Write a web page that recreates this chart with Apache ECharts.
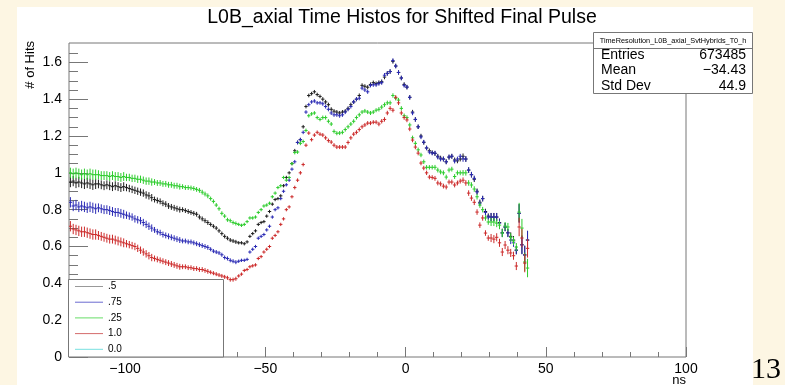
<!DOCTYPE html>
<html><head><meta charset="utf-8">
<script src="https://cdn.jsdelivr.net/npm/echarts@6/dist/echarts.min.js"></script>
<style>
html,body{margin:0;padding:0;background:#fdf6e3;}
#sheet{position:absolute;left:17px;top:7px;width:736px;height:378px;background:#fff;}
#chart{position:absolute;left:0;top:0;width:785px;height:385px;}
</style></head>
<body><div id="sheet"></div><div id="chart"></div>
<script>
// ---- histogram binning (1 ns bins starting at -120 ns) ----
const binLow = -120;
const binWidth = 1;

// ---- series values (# of hits, normalised), one per bin ----
const s05 = [
 0.95,0.955,0.945,0.95,0.945,0.94,0.945,0.94,0.935,0.94,
 0.94,0.935,0.93,0.935,0.93,0.925,0.93,0.925,0.92,0.925,
 0.92,0.915,0.91,0.905,0.9,0.895,0.89,0.88,0.875,0.865,
 0.855,0.85,0.845,0.835,0.83,0.82,0.815,0.81,0.805,0.80,
 0.80,0.795,0.79,0.785,0.78,0.775,0.76,0.75,0.74,0.73,
 0.72,0.71,0.70,0.685,0.67,0.655,0.645,0.635,0.63,0.625,
 0.62,0.62,0.615,0.625,0.655,0.67,0.685,0.72,0.73,0.735,
 0.765,0.79,0.83,0.855,0.86,0.875,0.93,0.975,1.0,1.05,
 1.12,1.165,1.18,1.25,1.36,1.42,1.43,1.44,1.425,1.415,
 1.40,1.385,1.37,1.345,1.335,1.33,1.325,1.33,1.335,1.35,
 1.37,1.385,1.40,1.42,1.475,1.47,1.465,1.48,1.49,1.485,
 1.49,1.495,1.52,1.54,1.55,1.605,1.58,1.545,1.515,1.48,
 1.465,1.41,1.33,1.29,1.25,1.2,1.165,1.135,1.12,1.11,
 1.105,1.09,1.08,1.075,1.06,1.085,1.09,1.07,1.065,1.075,
 1.09,1.075,1.015,0.99,0.965,0.9,0.84,0.86,0.79,0.765,
 0.76,0.76,0.76,0.73,0.675,0.705,0.675,0.655,0.635,0.58,
 0.78,0.61,0.555,0.635];
const s075 = [
 0.84,0.82,0.825,0.815,0.82,0.815,0.81,0.815,0.81,0.805,
 0.81,0.805,0.80,0.80,0.795,0.79,0.785,0.785,0.78,0.775,
 0.77,0.765,0.76,0.75,0.745,0.74,0.73,0.72,0.71,0.70,
 0.69,0.68,0.675,0.665,0.66,0.655,0.65,0.645,0.64,0.635,
 0.63,0.63,0.625,0.625,0.62,0.615,0.61,0.605,0.60,0.595,
 0.585,0.575,0.57,0.565,0.555,0.54,0.535,0.525,0.52,0.515,
 0.52,0.525,0.525,0.53,0.57,0.585,0.60,0.645,0.655,0.665,
 0.69,0.71,0.76,0.80,0.81,0.86,0.90,0.935,0.96,1.02,
 1.06,1.165,1.18,1.22,1.33,1.37,1.385,1.39,1.38,1.38,
 1.375,1.36,1.345,1.325,1.315,1.315,1.31,1.315,1.33,1.345,
 1.36,1.385,1.40,1.405,1.46,1.45,1.44,1.475,1.478,1.478,
 1.485,1.49,1.53,1.54,1.55,1.61,1.58,1.545,1.515,1.475,
 1.466,1.41,1.325,1.29,1.25,1.195,1.167,1.135,1.113,1.107,
 1.107,1.086,1.075,1.075,1.06,1.086,1.09,1.064,1.075,1.09,
 1.075,1.075,1.015,0.99,0.97,0.896,0.835,0.86,0.785,0.76,
 0.76,0.76,0.76,0.727,0.673,0.706,0.673,0.635,0.62,0.58,
 0.78,0.608,0.553,0.635];
const s025 = [
 1.0,0.995,1.0,0.995,0.99,0.995,0.99,0.995,0.99,0.99,
 0.99,0.985,0.985,0.985,0.98,0.985,0.98,0.98,0.975,0.98,
 0.975,0.975,0.97,0.97,0.965,0.965,0.96,0.955,0.955,0.95,
 0.95,0.945,0.945,0.94,0.94,0.935,0.935,0.93,0.93,0.925,
 0.925,0.92,0.92,0.918,0.915,0.91,0.905,0.895,0.885,0.875,
 0.86,0.845,0.825,0.805,0.78,0.765,0.745,0.74,0.73,0.725,
 0.72,0.715,0.72,0.735,0.755,0.755,0.76,0.785,0.80,0.82,
 0.825,0.835,0.87,0.89,0.92,0.93,0.975,0.96,0.975,1.05,
 1.11,1.113,1.16,1.17,1.23,1.31,1.32,1.325,1.30,1.29,
 1.30,1.30,1.28,1.265,1.225,1.215,1.216,1.22,1.235,1.25,
 1.265,1.28,1.30,1.315,1.33,1.336,1.33,1.325,1.33,1.34,
 1.345,1.357,1.37,1.38,1.38,1.42,1.405,1.395,1.35,1.31,
 1.30,1.26,1.19,1.16,1.125,1.097,1.06,1.03,1.03,1.03,
 1.03,1.015,1.005,1.0,0.977,1.015,1.02,0.98,1.0,1.0,
 1.0,1.0,0.945,0.934,0.912,0.87,0.825,0.80,0.755,0.733,
 0.733,0.733,0.727,0.716,0.673,0.711,0.706,0.65,0.63,0.597,
 0.787,0.70,0.516,0.483];
const s10 = [
 0.71,0.695,0.69,0.685,0.68,0.68,0.675,0.67,0.665,0.665,
 0.66,0.655,0.65,0.645,0.64,0.64,0.635,0.63,0.625,0.62,
 0.615,0.61,0.605,0.60,0.59,0.58,0.57,0.56,0.55,0.54,
 0.535,0.53,0.525,0.52,0.515,0.51,0.505,0.50,0.495,0.49,
 0.49,0.49,0.485,0.485,0.48,0.48,0.475,0.475,0.47,0.465,
 0.46,0.455,0.45,0.445,0.44,0.435,0.43,0.42,0.42,0.425,
 0.44,0.45,0.47,0.475,0.49,0.495,0.50,0.535,0.545,0.57,
 0.585,0.60,0.645,0.66,0.68,0.72,0.75,0.80,0.815,0.87,
 0.92,0.96,1.0,1.045,1.15,1.216,1.18,1.205,1.22,1.21,
 1.205,1.19,1.175,1.167,1.15,1.14,1.14,1.14,1.14,1.165,
 1.19,1.21,1.22,1.235,1.25,1.26,1.27,1.27,1.275,1.275,
 1.265,1.28,1.29,1.325,1.35,1.34,1.41,1.38,1.325,1.30,
 1.287,1.238,1.178,1.14,1.107,1.053,1.026,1.0,0.977,0.975,
 0.97,0.945,0.94,0.928,0.923,0.95,0.95,0.934,0.945,0.955,
 0.96,0.945,0.89,0.863,0.84,0.787,0.716,0.755,0.673,0.646,
 0.646,0.64,0.65,0.62,0.57,0.608,0.58,0.565,0.55,0.494,
 0.706,0.646,0.51,0.59];
const s00 = [];
// half error bar per 10-ns block (from -120 to 50)
const errorByBlock = [0.028,0.024,0.02,0.016,0.013,0.011,0.009,0.009,0.01,0.011,0.011,0.012,0.012,0.013,0.015,0.022,0.05];

const seriesNames = ['.5', '.75', '.25', '1.0', '0.0'];
const seriesValues = [s05, s075, s025, s10, s00];

// ---- axis ticks / labels ----
const xMajorTicks = [-100, -50, 0, 50, 100];
const xMinorTicks = [-110,-90,-80,-70,-60,-40,-30,-20,-10,10,20,30,40,60,70,80,90];
const yMajorTicks = [0, 0.2, 0.4, 0.6, 0.8, 1, 1.2, 1.4, 1.6];
const yMinorTicks = [0.05,0.1,0.15,0.25,0.3,0.35,0.45,0.5,0.55,0.65,0.7,0.75,0.85,0.9,0.95,1.05,1.1,1.15,1.25,1.3,1.35,1.45,1.5,1.55,1.65];

// ---- stats box ----
const statsTitle = 'TimeResolution_L0B_axial_SvtHybrids_T0_h';
const statsLabels = ['Entries', 'Mean', 'Std Dev'];
const statsValues = ['673485', '\u221234.43', '44.9'];

const colors = ['#1e1e1e', '#2a2ab4', '#2ccc2c', '#cc2a2a', '#55dddd'];
const legendColors = ['#999999', '#6a6ad0', '#66dd66', '#d46a6a', '#77e0e0'];
const FONT = '"Liberation Sans", Arial, Helvetica, sans-serif';

function toData(vals) {
  return vals.map((v, i) => [binLow + (i + 0.5) * binWidth, v,
    errorByBlock[Math.floor(i * binWidth / 10)]]);
}

function renderCross(params, api) {
  const x = api.value(0), y = api.value(1), e = api.value(2);
  const c = api.coord([x, y]);
  const l = api.coord([x - binWidth * 0.6, y]);
  const r = api.coord([x + binWidth * 0.6, y]);
  const t = api.coord([x, y + e]);
  const b = api.coord([x, y - e]);
  const st = { stroke: api.visual('color'), lineWidth: 1 };
  return { type: 'group', children: [
    { type: 'line', shape: { x1: l[0], y1: c[1], x2: r[0], y2: c[1] }, style: st },
    { type: 'line', shape: { x1: c[0], y1: t[1], x2: c[0], y2: b[1] }, style: st }
  ]};
}

const minus = v => (v < 0 ? '\u2212' + Math.abs(v) : String(v));

const chart = echarts.init(document.getElementById('chart'), null, { renderer: 'canvas' });
const axisGray = '#777';
chart.setOption({
  backgroundColor: 'transparent',
  animation: false,
  grid: { left: 69, top: 43, right: 99, bottom: 28, show: true, borderColor: axisGray, borderWidth: 1, backgroundColor: 'transparent' },
  xAxis: [
    { type: 'value', min: -120, max: 100, position: 'bottom',
      axisLine: { show: false, onZero: false },
      axisTick: { show: true, inside: true, length: 10, customValues: xMajorTicks, lineStyle: { color: axisGray } },
      axisLabel: { customValues: xMajorTicks, formatter: minus, fontFamily: FONT, fontSize: 14, color: '#000', margin: 5 },
      splitLine: { show: false } },
    { type: 'value', min: -120, max: 100, position: 'bottom', gridIndex: 0,
      axisLine: { show: false, onZero: false },
      axisTick: { show: true, inside: true, length: 5, customValues: xMinorTicks, lineStyle: { color: axisGray } },
      axisLabel: { show: false }, splitLine: { show: false } }
  ],
  yAxis: [
    { type: 'value', min: 0, max: 1.705, position: 'left',
      axisLine: { show: false, onZero: false },
      axisTick: { show: true, inside: true, length: 19, customValues: yMajorTicks, lineStyle: { color: axisGray } },
      axisLabel: { customValues: yMajorTicks, formatter: v => String(+v.toFixed(1)), fontFamily: FONT, fontSize: 14, color: '#000', margin: 7 },
      splitLine: { show: false } },
    { type: 'value', min: 0, max: 1.705, position: 'left', gridIndex: 0,
      axisLine: { show: false, onZero: false },
      axisTick: { show: true, inside: true, length: 9, customValues: yMinorTicks, lineStyle: { color: axisGray } },
      axisLabel: { show: false }, splitLine: { show: false } }
  ],
  legend: {
    orient: 'vertical', left: 75, top: 280.5, padding: 0, itemGap: 3.7,
    icon: 'rect', itemWidth: 28, itemHeight: 1, z: 6,
    textStyle: { fontFamily: FONT, fontSize: 10, lineHeight: 12, color: '#000' },
    data: seriesNames.map((n, i) => ({ name: n, itemStyle: { color: legendColors[i] } }))
  },
  series: seriesNames.map((n, i) => ({
    name: n, type: 'custom', xAxisIndex: 0, yAxisIndex: 0,
    color: colors[i], clip: true,
    renderItem: renderCross, data: toData(seriesValues[i]),
    encode: { x: 0, y: 1 }
  })),
  graphic: [
    { type: 'text', z: 10, style: { text: 'L0B_axial Time Histos for Shifted Final Pulse', x: 402, y: 18,
      textAlign: 'center', textVerticalAlign: 'middle', font: '19.5px ' + FONT, fill: '#000' } },
    { type: 'text', z: 10, rotation: Math.PI / 2, x: 30, y: 41,
      style: { text: '# of Hits', x: 0, y: 0, textAlign: 'right', textVerticalAlign: 'middle', font: '13px ' + FONT, fill: '#000' } },
    { type: 'text', z: 10, style: { text: 'ns', x: 686, y: 380, textAlign: 'right', textVerticalAlign: 'middle', font: '13px ' + FONT, fill: '#000' } },
    { type: 'rect', z: 5, shape: { x: 68.5, y: 279.5, width: 155, height: 77.5 }, style: { fill: '#fff', stroke: axisGray, lineWidth: 1 } },
    { type: 'rect', z: 10, shape: { x: 593.5, y: 32.5, width: 159, height: 61 }, style: { fill: '#fff', stroke: axisGray, lineWidth: 1 } },
    { type: 'line', z: 11, shape: { x1: 593.5, y1: 48.5, x2: 752.5, y2: 48.5 }, style: { stroke: axisGray, lineWidth: 1 } },
    { type: 'text', z: 11, style: { text: statsTitle, x: 673, y: 40.5, textAlign: 'center', textVerticalAlign: 'middle', font: '7.3px ' + FONT, fill: '#000' } },
    ...statsLabels.map((t, i) => ({ type: 'text', z: 11, style: { text: t, x: 601, y: 55 + i * 15.5, textAlign: 'left', textVerticalAlign: 'middle', font: '14px ' + FONT, fill: '#000' } })),
    ...statsValues.map((t, i) => ({ type: 'text', z: 11, style: { text: t, x: 746, y: 55 + i * 15.5, textAlign: 'right', textVerticalAlign: 'middle', font: '14px ' + FONT, fill: '#000' } })),
    { type: 'text', z: 10, style: { text: '13', x: 766, y: 370, textAlign: 'center', textVerticalAlign: 'middle', font: '30px "Liberation Serif", "DejaVu Serif", serif', fill: '#000' } }
  ]
});
</script>
</body></html>
